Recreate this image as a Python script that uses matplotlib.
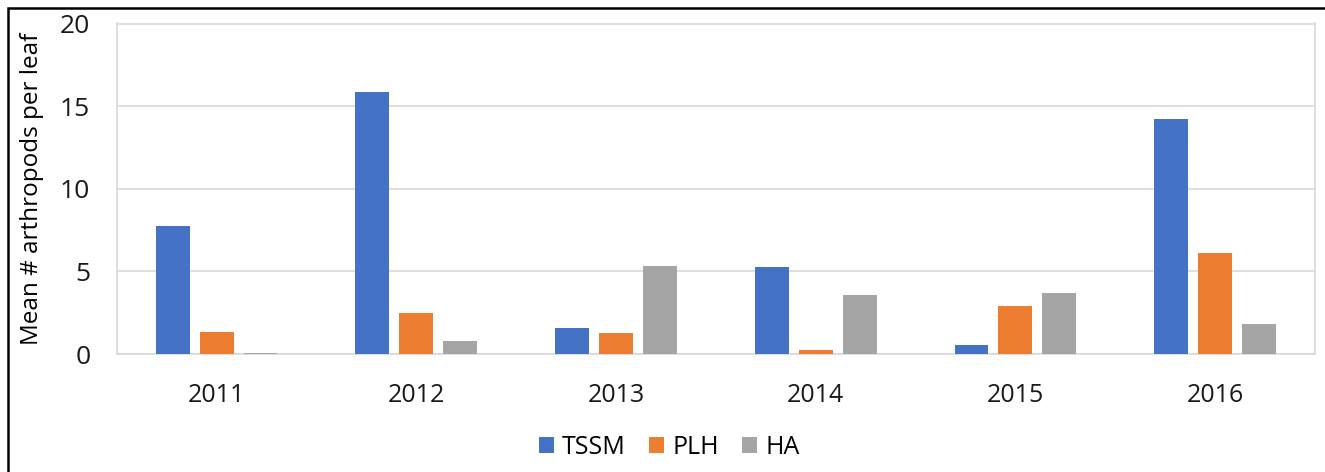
import numpy as np
import matplotlib.pyplot as plt
from matplotlib.patches import Rectangle

plt.rcParams['font.family'] = ['Open Sans', 'DejaVu Sans']

years = ['2011', '2012', '2013', '2014', '2015', '2016']
tssm = [7.75, 15.85, 1.55, 5.27, 0.57, 14.2]
plh = [1.35, 2.48, 1.3, 0.26, 2.9, 6.1]
ha = [0.08, 0.8, 5.35, 3.58, 3.72, 1.82]
series = [('TSSM', tssm, '#4472C4'), ('PLH', plh, '#ED7D31'), ('HA', ha, '#A5A5A5')]

fig = plt.figure(figsize=(13.25, 4.72), dpi=100)
ax = fig.add_axes([116.7/1325, 1-354/472, (1315-116.7)/1325, (354-23.5)/472])

x = np.arange(len(years))
w = 0.17
step = 0.22
for i, (name, vals, col) in enumerate(series):
    ax.bar(x + (i-1)*step, vals, w, color=col, label=name, zorder=3)

ax.set_xlim(-0.5, len(years)-0.5)
ax.set_ylim(0, 20)
ax.set_yticks([0, 5, 10, 15, 20])
ax.set_xticks(x)
ax.set_xticklabels(years)
ax.grid(axis='y', color='#d9d9d9', lw=1.2, zorder=0)
for s in ax.spines.values():
    s.set_color('#d9d9d9')
    s.set_linewidth(1.2)
ax.tick_params(length=0, colors='#1a1a1a')
ax.tick_params(axis='y', pad=19, labelsize=19)
ax.tick_params(axis='x', pad=21, labelsize=18)
ax.set_ylabel('Mean # arthropods per leaf', fontsize=17.5)
ax.yaxis.set_label_coords(-73/1198.3, 0.5)

fig.legend(loc='center', bbox_to_anchor=(669/1325, 1-447/472), ncol=3,
           frameon=False, fontsize=18, handlelength=0.6, handleheight=0.6,
           columnspacing=0.9, handletextpad=0.35)

fig.patches.append(Rectangle((8/1325, -0.1), 1.2, 1-8/472+0.1, transform=fig.transFigure,
                             fill=False, edgecolor='black', lw=1.8))

fig.savefig('out.png', dpi=100)
